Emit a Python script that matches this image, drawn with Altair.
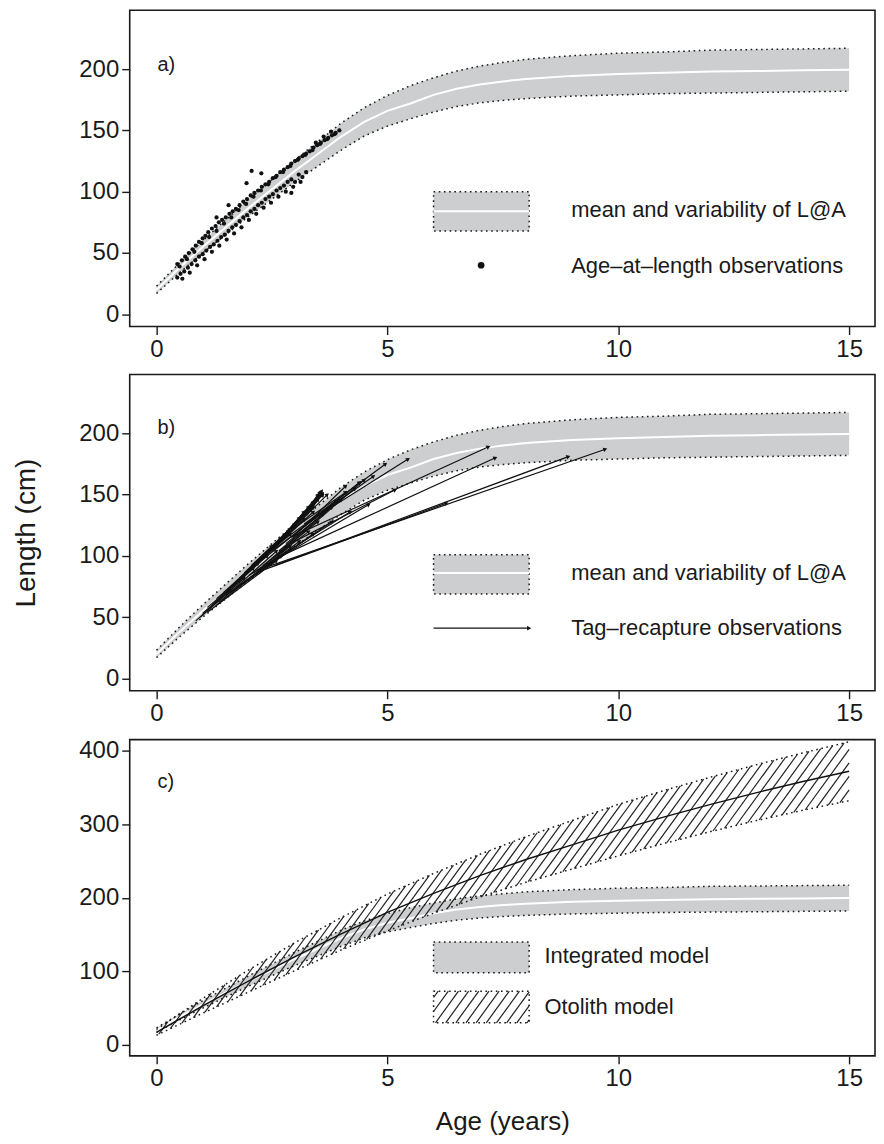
import math
import altair as alt
import numpy as np
import pandas as pd

# ---------------- data ----------------
# Integrated model: mean and variability of length-at-age (cm)
AGE_GRID = [0, 0.5, 1, 1.5, 2, 2.5, 3, 3.5, 4, 4.5, 5, 5.5, 6, 6.5, 7, 7.5, 8, 9, 10, 11, 12, 13, 14, 15]
LAA_MEAN = [20, 38, 55, 71, 87, 102, 117, 131, 145, 157, 166, 172, 179, 184, 187.5, 190, 192, 194.5, 196, 197, 198, 198.5, 199, 199.5]
LAA_LOW = [17, 34, 50, 65, 80, 94, 108, 121, 134, 145.5, 153.5, 159.5, 165, 169.5, 172.5, 174.5, 176, 178, 179, 180, 180.5, 181, 181.5, 182]
LAA_UP = [23, 42, 60, 77, 94, 110, 126, 141, 156, 168.5, 178.5, 186.5, 193, 198.5, 202.5, 205.5, 208, 211, 213, 214, 215.5, 216, 216.5, 217]

# Otolith model
OTO_AGE = [0, 1, 2, 3, 4, 5, 6, 7, 8, 9, 10, 11, 12, 13, 14, 15]
OTO_MEAN = [17, 53, 87, 120, 151, 180, 206, 230, 252, 272, 292, 310, 327, 343, 358, 372]
OTO_LOW = [13, 43, 72, 101, 129, 155, 179, 201, 221, 239, 257, 274, 290, 305, 319, 332]
OTO_UP = [21, 63, 102, 139, 173, 205, 233, 259, 283, 305, 327, 346, 364, 381, 397, 412]

# Panel a: age-at-length observations
OBS_AGE = [
    0.45, 0.55, 0.62, 0.70, 0.78, 0.85, 0.92, 1.00, 1.06, 1.12, 1.20, 1.28, 1.35, 1.42, 1.50, 1.58,
    1.65, 1.72, 1.80, 1.88, 1.96, 2.04, 2.12, 2.20, 2.28, 2.36, 2.44, 2.52, 2.60, 2.68, 2.76, 2.84,
    2.92, 3.00, 3.08, 3.16, 3.24, 3.32, 3.40, 3.48, 3.56, 3.64, 3.72, 3.80, 3.88, 3.96,
    0.50, 0.66, 0.82, 0.98, 1.14, 1.30, 1.46, 1.62, 1.78, 1.94, 2.10, 2.26, 2.42, 2.58, 2.74, 2.90,
    3.06, 3.22, 3.38, 3.54, 3.70, 3.86, 3.62, 3.78, 3.45,
    0.45, 0.52, 0.60, 0.68, 0.76, 0.84, 0.92, 1.00, 1.08, 1.16, 1.24, 1.32, 1.40, 1.48, 1.56, 1.64,
    1.72, 1.80, 1.88, 1.96, 2.04, 2.12, 2.20, 2.28, 2.36, 2.44, 2.52, 2.60, 2.68, 2.76, 2.84, 2.92,
    3.00, 3.08, 3.16, 3.24,
    0.56, 0.72, 0.88, 1.04, 1.20, 1.36, 1.52, 1.68, 1.84, 2.00, 2.16, 2.32, 2.48, 2.64, 2.80, 2.96, 3.12,
    1.56, 1.95, 2.06, 2.27, 2.92, 1.30,
]
OBS_LEN = [
    41, 44, 47, 50, 53, 56, 59, 62, 64, 67, 70, 72, 75, 77, 79, 82,
    84, 86, 89, 92, 94, 97, 99, 101, 104, 106, 108, 111, 113, 116, 118, 120,
    123, 125, 127, 129, 131, 133, 136, 138, 140, 142, 144, 146, 148, 150,
    39, 45, 51, 58, 63, 68, 74, 79, 85, 90, 96, 101, 106, 112, 116, 121,
    126, 130, 134, 139, 143, 147, 145, 149, 140,
    30, 33, 35, 38, 41, 44, 47, 49, 52, 55, 57, 60, 63, 65, 68, 71,
    73, 76, 79, 81, 84, 86, 89, 91, 94, 96, 98, 101, 103, 105, 108, 110,
    108, 114, 112, 116,
    29, 34, 40, 45, 51, 56, 61, 66, 71, 77, 82, 87, 91, 96, 100, 104, 108,
    89, 107, 117, 115, 99, 79,
]

# Panel b: tag-recapture observations (release age/length -> recapture age/length)
TAG_AGE1 = [0.85, 0.95, 1.00, 1.10, 1.20, 1.30, 1.35, 1.45, 1.50, 1.60, 1.70, 1.75, 1.80, 1.90, 1.95,
            2.00, 2.05, 2.10, 2.20, 2.25, 2.30, 2.40, 2.45, 2.50, 2.55, 2.60, 2.65, 2.70, 2.75, 2.80,
            2.85, 2.90, 2.95, 3.00, 3.05, 3.10, 3.15, 3.20, 3.25, 3.30, 2.90, 2.40, 2.55, 2.70, 2.90,
            2.60, 2.35,
            1.60, 1.80, 2.00, 2.20, 1.30, 1.10, 2.30, 2.50, 2.70, 2.80, 3.00, 3.20, 3.35, 1.90, 2.05]
TAG_LEN1 = [47, 50, 53, 58, 60, 65, 62, 70, 68, 74, 78, 74, 82, 84, 80,
            88, 92, 86, 95, 98, 92, 102, 105, 98, 108, 110, 104, 114, 116, 110,
            120, 122, 115, 125, 128, 121, 130, 126, 133, 128, 110, 91, 92, 100, 115,
            100, 89,
            70, 76, 84, 88, 60, 54, 97, 104, 112, 118, 124, 132, 138, 86, 90]
TAG_AGE2 = [1.60, 1.90, 2.10, 1.80, 2.40, 2.20, 2.60, 2.50, 2.30, 2.80, 2.60, 2.70, 3.00, 2.90, 3.10,
            3.20, 2.90, 3.30, 3.40, 3.00, 3.50, 3.40, 3.10, 3.60, 3.50, 3.20, 3.80, 3.60, 3.30, 4.00,
            3.55, 3.40, 4.10, 3.60, 3.50, 4.40, 3.58, 4.96, 3.60, 5.45, 5.17, 9.72, 8.92, 7.34, 7.19,
            4.50, 6.28,
            3.40, 3.80, 4.20, 4.60, 2.90, 2.60, 3.90, 4.30, 4.70, 4.10, 3.70, 3.50, 3.55, 2.50, 2.70]
TAG_LEN2 = [72, 82, 90, 80, 100, 94, 104, 106, 90, 116, 110, 100, 124, 118, 112,
            130, 122, 120, 136, 126, 128, 140, 131, 134, 146, 136, 140, 150, 140, 146,
            152, 144, 157, 150, 148, 160, 153, 175, 151, 179, 154, 187, 181, 180, 189,
            162, 143,
            118, 128, 136, 142, 108, 96, 145, 155, 165, 152, 150, 150, 150, 108, 114]

# text
PANEL_LABELS = ["a)", "b)", "c)"]
LEGEND_BAND = "mean and variability of L@A"
LEGEND_OBS_A = "Age\u2013at\u2013length observations"
LEGEND_OBS_B = "Tag\u2013recapture observations"
LEGEND_C = ["Integrated model", "Otolith model"]
X_TITLE = "Age (years)"
Y_TITLE = "Length (cm)"

# ---------------- layout / style ----------------
FONT = "Liberation Sans"
W, H = 747, 317
X_DOM = [-0.58, 15.56]
Y_DOM_AB = [-10, 248]
Y_DOM_C = [-15, 415]
BAND_FILL = "#cdced0"
INK = "#1a1a1a"
DOT = [1.6, 3.6]
TICK_FS = 24
LEG_FS = 22
KX = W / (X_DOM[1] - X_DOM[0])

xscale = alt.Scale(domain=X_DOM, nice=False, zero=False)


def make_xaxis(title=None):
    kw = dict(values=[0, 5, 10, 15], tickSize=8, tickWidth=1.4, tickColor=INK,
              labelFontSize=TICK_FS, labelColor=INK, labelFont=FONT, labelPadding=3,
              domain=False, grid=False, title=title)
    if title:
        kw.update(titleFontSize=26, titleFont=FONT, titleFontWeight="normal",
                  titleColor=INK, titlePadding=18)
    return alt.Axis(**kw)


def make_yaxis(values, title=None):
    kw = dict(values=values, tickSize=8, tickWidth=1.4, tickColor=INK,
              labelFontSize=TICK_FS, labelColor=INK, labelFont=FONT, labelPadding=3,
              domain=False, grid=False, title=title)
    if title:
        kw.update(titleFontSize=28, titleFont=FONT, titleFontWeight="normal",
                  titleColor=INK, titlePadding=38)
    return alt.Axis(**kw)


class Panel:
    def __init__(self, yscale, xaxis, yaxis):
        self.ys = yscale
        self.xa = xaxis
        self.ya = yaxis
        self.layers = []

    def X(self, field):
        return alt.X(field, type="quantitative", scale=xscale, axis=self.xa)

    def Y(self, field):
        return alt.Y(field, type="quantitative", scale=self.ys, axis=self.ya)

    def add(self, layer):
        self.layers.append(layer)

    def chart(self):
        return alt.layer(*self.layers).properties(width=W, height=H)

    # band of the integrated model
    def band(self, df, white_mean=True):
        base = alt.Chart(df)
        self.add(base.mark_area(color=BAND_FILL).encode(x=self.X("t"), y=self.Y("lo"), y2="hi"))
        self.add(base.mark_line(color=INK, strokeDash=DOT, strokeWidth=1.5).encode(
            x=self.X("t"), y=self.Y("lo")))
        self.add(base.mark_line(color=INK, strokeDash=DOT, strokeWidth=1.5).encode(
            x=self.X("t"), y=self.Y("hi")))
        if white_mean:
            self.add(base.mark_line(color="white", strokeWidth=2).encode(
                x=self.X("t"), y=self.Y("m")))

    def text(self, rows, size=LEG_FS):
        df = pd.DataFrame(rows, columns=["t", "y", "s"])
        self.add(alt.Chart(df).mark_text(align="left", baseline="middle", font=FONT,
                                         fontSize=size, color=INK).encode(
            x=self.X("t"), y=self.Y("y"), text="s:N"))

    def box(self, x1, x2, y1, y2, fill=BAND_FILL, white=None):
        df = pd.DataFrame({"x1": [x1], "x2": [x2], "y1": [y1], "y2": [y2]})
        self.add(alt.Chart(df).mark_rect(fill=fill, stroke=INK, strokeDash=DOT, strokeWidth=1.5).encode(
            x=self.X("x1"), x2="x2", y=self.Y("y1"), y2="y2"))
        if white is not None:
            wdf = pd.DataFrame({"x1": [x1], "x2": [x2], "y": [white]})
            self.add(alt.Chart(wdf).mark_rule(color="white", strokeWidth=2).encode(
                x=self.X("x1"), x2="x2", y=self.Y("y")))

    def segments(self, df, color="#111", width=1.2):
        self.add(alt.Chart(df).mark_rule(color=color, strokeWidth=width).encode(
            x=self.X("t1"), x2="t2", y=self.Y("L1"), y2="L2"))


band_df = pd.DataFrame({"t": AGE_GRID, "m": LAA_MEAN, "lo": LAA_LOW, "hi": LAA_UP})
oto_df = pd.DataFrame({"t": OTO_AGE, "m": OTO_MEAN, "lo": OTO_LOW, "hi": OTO_UP})

# ---------------- panel a ----------------
ys_ab = alt.Scale(domain=Y_DOM_AB, nice=False, zero=False)
pa = Panel(ys_ab, make_xaxis(), make_yaxis([0, 50, 100, 150, 200]))
pa.band(band_df)
obs_df = pd.DataFrame({"t": OBS_AGE, "L": OBS_LEN})
pa.add(alt.Chart(obs_df).mark_circle(color="#111", size=18, opacity=1).encode(
    x=pa.X("t"), y=pa.Y("L")))
pa.box(6.0, 8.07, 68, 100, white=84)
pa.add(alt.Chart(pd.DataFrame({"t": [7.03], "y": [40]})).mark_circle(
    color="#111", size=45, opacity=1).encode(x=pa.X("t"), y=pa.Y("y")))
pa.text([(8.98, 85, LEGEND_BAND), (8.98, 39, LEGEND_OBS_A)])
pa.text([(0.02, 203, PANEL_LABELS[0])], size=20)
panel_a = pa.chart()

# ---------------- panel b ----------------
ky_b = H / (Y_DOM_AB[1] - Y_DOM_AB[0])
tag_df = pd.DataFrame({"t1": TAG_AGE1, "L1": TAG_LEN1, "t2": TAG_AGE2, "L2": TAG_LEN2})
tag_df["ang"] = [
    (360 - math.degrees(math.atan2((b2 - b1) * ky_b, (a2 - a1) * KX))) % 360
    for a1, b1, a2, b2 in zip(TAG_AGE1, TAG_LEN1, TAG_AGE2, TAG_LEN2)
]
leg_arrow = pd.DataFrame({"t1": [6.0], "L1": [41], "t2": [8.07], "L2": [41], "ang": [0]})

pb = Panel(ys_ab, make_xaxis(), make_yaxis([0, 50, 100, 150, 200], Y_TITLE))
pb.band(band_df)
for d in (tag_df, leg_arrow):
    pb.segments(d)
    pb.add(alt.Chart(d).mark_point(shape="triangle-right", filled=True, size=22,
                                   color="#111", opacity=1).encode(
        x=pb.X("t2"), y=pb.Y("L2"), angle=alt.Angle("ang:Q", scale=None)))
pb.box(6.0, 8.07, 69, 101, white=86)
pb.text([(8.98, 86, LEGEND_BAND), (8.98, 41, LEGEND_OBS_B)])
pb.text([(0.02, 204, PANEL_LABELS[1])], size=20)
panel_b = pb.chart()

# ---------------- panel c ----------------
ys_c = alt.Scale(domain=Y_DOM_C, nice=False, zero=False)
ky_c = H / (Y_DOM_C[1] - Y_DOM_C[0])
HATCH_TAN = math.tan(math.radians(54))

# hatch lines of the otolith band (decoration derived from the band arrays)
fine = np.linspace(0, 15, 3001)
up_f = np.interp(fine, OTO_AGE, OTO_UP)
hatch = []
for t0 in np.arange(0.05, 15, 0.25):
    y0 = float(np.interp(t0, OTO_AGE, OTO_LOW))
    yl = y0 + (fine - t0) * KX * HATCH_TAN / ky_c
    hit = (fine >= t0) & (yl >= up_f)
    if hit.any():
        i = int(np.argmax(hit))
        t1, y1 = float(fine[i]), float(up_f[i])
    else:
        t1, y1 = 15.0, float(y0 + (15 - t0) * KX * HATCH_TAN / ky_c)
    hatch.append((t0, y0, t1, y1))
hatch_df = pd.DataFrame(hatch, columns=["t1", "L1", "t2", "L2"])

# hatch inside the legend key
lx1, lx2, ly1, ly2 = 6.0, 8.07, 30, 73
dt = (ly2 - ly1) * ky_c / HATCH_TAN / KX
lh = []
for s in np.arange(lx1 - dt + 0.1, lx2, 0.22):
    a_t, a_y = s, ly1
    b_t, b_y = s + dt, ly2
    if a_t < lx1:
        a_y = ly1 + (lx1 - s) / dt * (ly2 - ly1)
        a_t = lx1
    if b_t > lx2:
        b_y = ly1 + (lx2 - s) / dt * (ly2 - ly1)
        b_t = lx2
    lh.append((a_t, a_y, b_t, b_y))
leg_hatch_df = pd.DataFrame(lh, columns=["t1", "L1", "t2", "L2"])

pc = Panel(ys_c, make_xaxis(X_TITLE), make_yaxis([0, 100, 200, 300, 400]))
pc.band(band_df)
pc.segments(hatch_df, color="#222", width=1.2)
oto = alt.Chart(oto_df)
pc.add(oto.mark_line(color=INK, strokeDash=DOT, strokeWidth=1.5).encode(x=pc.X("t"), y=pc.Y("lo")))
pc.add(oto.mark_line(color=INK, strokeDash=DOT, strokeWidth=1.5).encode(x=pc.X("t"), y=pc.Y("hi")))
pc.add(oto.mark_line(color="#111", strokeWidth=1.4).encode(x=pc.X("t"), y=pc.Y("m")))
pc.box(6.0, 8.07, 98, 140)
pc.segments(leg_hatch_df, color="#222", width=1.2)
pc.box(lx1, lx2, ly1, ly2, fill="transparent")
pc.text([(8.4, 121, LEGEND_C[0]), (8.4, 52, LEGEND_C[1])])
pc.text([(0.02, 357, PANEL_LABELS[2])], size=20)
panel_c = pc.chart()

chart = (
    alt.vconcat(panel_a, panel_b, panel_c, spacing=11)
    .properties(padding={"left": 4, "top": 0, "right": 0, "bottom": 0})
    .configure_view(stroke=INK, strokeWidth=1.6)
)

chart.save("out.html", embed_options={"renderer": "svg", "actions": False})
